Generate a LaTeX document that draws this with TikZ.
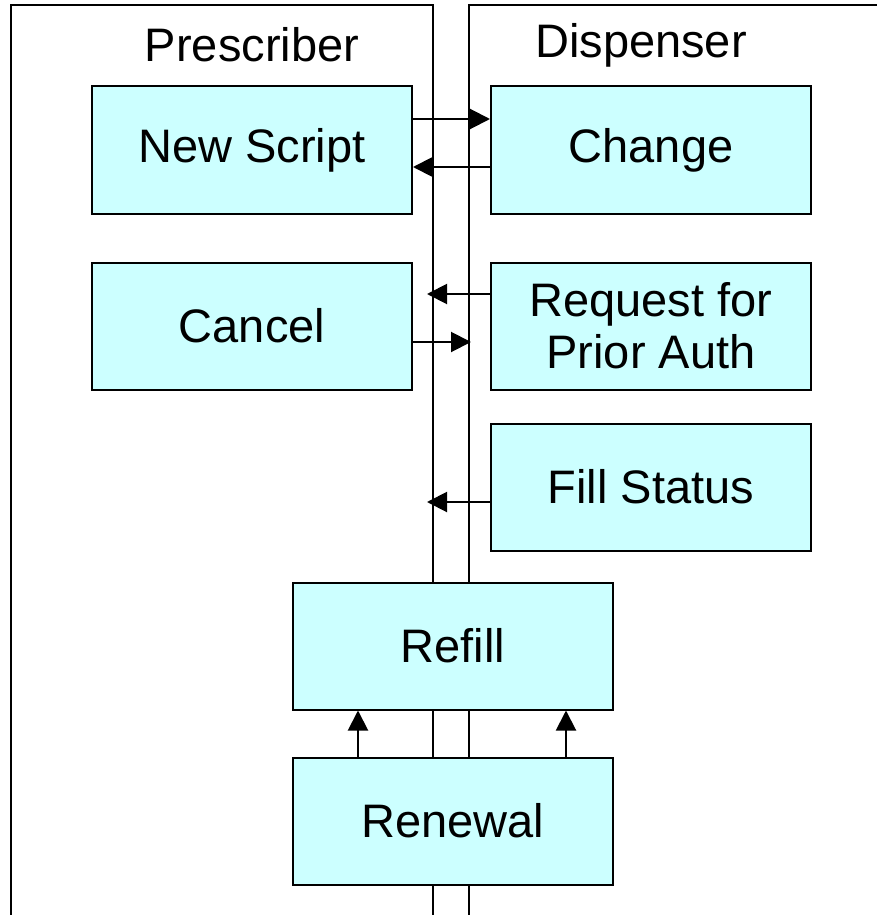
\documentclass[tikz,border=0pt]{standalone}
\usepackage{fontspec}
\setmainfont{Liberation Sans}
\usepackage{tikz}
\usetikzlibrary{positioning,arrows.meta}

\definecolor{boxfill}{HTML}{CCFFFF}

\tikzset{
    lane/.style={draw=black, line width=2pt},
    head/.style={font=\fontsize{47}{52}\selectfont},
    box/.style={draw=black, line width=2pt, fill=boxfill, minimum width=320pt,
        minimum height=127pt, align=center, font=\fontsize{47}{52}\selectfont},
    arr/.style={line width=2pt, -{Triangle[length=20pt,width=20pt]}}
}

\begin{document}
\begin{tikzpicture}[x=1pt, y=-1pt]
    \clip (0,0) rectangle (877,915);

    % swim lanes
    \draw[lane] (11,5) rectangle (433,940);
    \draw[lane] (469,5) rectangle (900,940);
    \node[head] (prescriber) at (252,45) {Prescriber};
    \node[head] (dispenser) at (641,45) {Dispenser};

    % messages
    \node[box] (newscript) at (252,150) {New Script};
    \node[box, right=77pt of newscript] (change) {Change};
    \node[box, below=47pt of newscript] (cancel) {Cancel};
    \node[box, right=77pt of cancel] (request) {Request for\\Prior Auth};
    \node[box, below=32pt of request] (fillstatus) {Fill Status};
    \node[box] (refill) at (453,646) {Refill};
    \node[box, below=46pt of refill] (renewal) {Renewal};

    \draw[arr] ([yshift=31pt]newscript.east) -- ([yshift=31pt]change.west);
    \draw[arr] ([yshift=-17pt]change.west) -- ([yshift=-17pt]newscript.east);
    \draw[arr] ([yshift=32pt]request.west) -- +(-63pt,0);
    \draw[arr] ([yshift=-16pt]cancel.east) -- +(58pt,0);
    \draw[arr] ([yshift=-15pt]fillstatus.west) -- +(-63pt,0);
    \draw[arr] ([xshift=-95pt]renewal.north) -- ([xshift=-95pt]refill.south);
    \draw[arr] ([xshift=113pt]renewal.north) -- ([xshift=113pt]refill.south);
\end{tikzpicture}
\end{document}
